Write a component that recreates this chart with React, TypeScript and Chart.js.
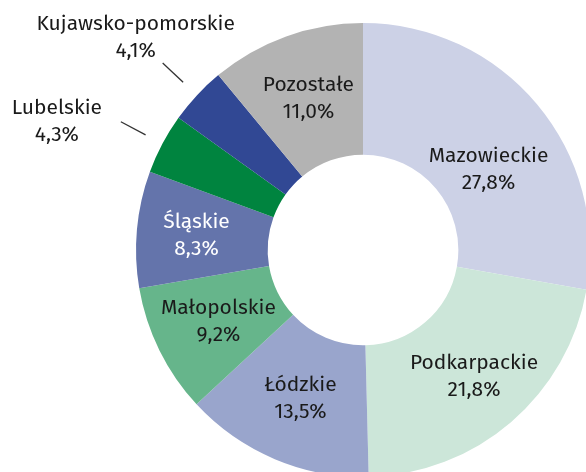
import React, { useEffect, useRef } from "react";
import { Chart, registerables } from "chart.js";

Chart.register(...registerables);

const regions = [
  "Mazowieckie",
  "Podkarpackie",
  "Łódzkie",
  "Małopolskie",
  "Śląskie",
  "Lubelskie",
  "Kujawsko-pomorskie",
  "Pozostałe",
];
const shares = [27.8, 21.8, 13.5, 9.2, 8.3, 4.3, 4.1, 11.0];
const sliceColors = [
  "#ccd1e6",
  "#cce6d9",
  "#99a5cc",
  "#66b58b",
  "#6474ab",
  "#00843f",
  "#314894",
  "#b3b3b3",
];
const textColors = ["#1a1a1a", "#1a1a1a", "#1a1a1a", "#1a1a1a", "#ffffff", "#1a1a1a", "#1a1a1a", "#1a1a1a"];
const outsideLabels = [false, false, false, false, false, true, true, false];

const FONT = '"Fira Sans", "Open Sans", "Noto Sans", sans-serif';

const labelPlugin = {
  id: "sliceLabels",
  afterDatasetsDraw(chart: any, _args: any, opts: any) {
    const ctx = chart.ctx;
    const meta = chart.getDatasetMeta(0);
    const nudges = opts.nudges || {};
    ctx.save();
    ctx.font = `${opts.fontWeight} ${opts.fontSize}px ${FONT}`;
    ctx.textAlign = "center";
    ctx.textBaseline = "middle";
    meta.data.forEach((arc: any, i: number) => {
      const p = arc.getProps(["x", "y", "startAngle", "endAngle", "innerRadius", "outerRadius"], true);
      const mid = (p.startAngle + p.endAngle) / 2;
      const name = regions[i];
      const val = shares[i].toFixed(1).replace(".", ",") + "%";
      const n = nudges[i] || [0, 0];
      if (!outsideLabels[i]) {
        const r = (p.innerRadius + p.outerRadius) / 2;
        const cx = p.x + Math.cos(mid) * r + n[0];
        const cy = p.y + Math.sin(mid) * r + n[1];
        ctx.fillStyle = textColors[i];
        ctx.fillText(name, cx, cy - 13);
        ctx.fillText(val, cx, cy + 14);
      } else {
        const r1 = p.outerRadius + 19;
        const r2 = p.outerRadius + 47;
        const x1 = p.x + Math.cos(mid) * r1;
        const y1 = p.y + Math.sin(mid) * r1;
        const x2 = p.x + Math.cos(mid) * r2;
        const y2 = p.y + Math.sin(mid) * r2;
        ctx.strokeStyle = "#333333";
        ctx.lineWidth = 1.3;
        ctx.beginPath();
        ctx.moveTo(x1, y1);
        ctx.lineTo(x2, y2);
        ctx.stroke();
        const cx = x2 + n[0];
        const cy = y2 + n[1];
        ctx.fillStyle = textColors[i];
        ctx.fillText(name, cx, cy - 13);
        ctx.fillText(val, cx, cy + 14);
      }
    });
    ctx.restore();
  },
};

export default function App() {
  const ref = useRef<HTMLCanvasElement | null>(null);
  useEffect(() => {
    if (!ref.current) return;
    const chart = new Chart(ref.current, {
      type: "doughnut",
      data: {
        labels: regions,
        datasets: [
          {
            data: shares,
            backgroundColor: sliceColors,
            borderWidth: 0,
            hoverOffset: 0,
          },
        ],
      },
      options: {
        responsive: false,
        animation: false,
        cutout: "42%",
        layout: { padding: { left: 136, top: 23, right: 10, bottom: 13 } },
        plugins: {
          legend: { display: false },
          tooltip: { enabled: false },
          sliceLabels: {
            fontSize: 21,
            fontWeight: 400,
            nudges: {
              0: [2, 23],
              1: [6, 4],
              4: [-6, 0],
              5: [-64, -1],
              6: [-27, -26],
            },
          },
        } as any,
      },
      plugins: [labelPlugin],
    });
    return () => chart.destroy();
  }, []);
  return (
    <div
      style={{
        position: "fixed",
        left: 0,
        top: 0,
        width: 586,
        height: 472,
        overflow: "hidden",
        background: "#ffffff",
      }}
    >
      <canvas ref={ref} width={600} height={490} style={{ width: 600, height: 490, display: "block" }} />
    </div>
  );
}
